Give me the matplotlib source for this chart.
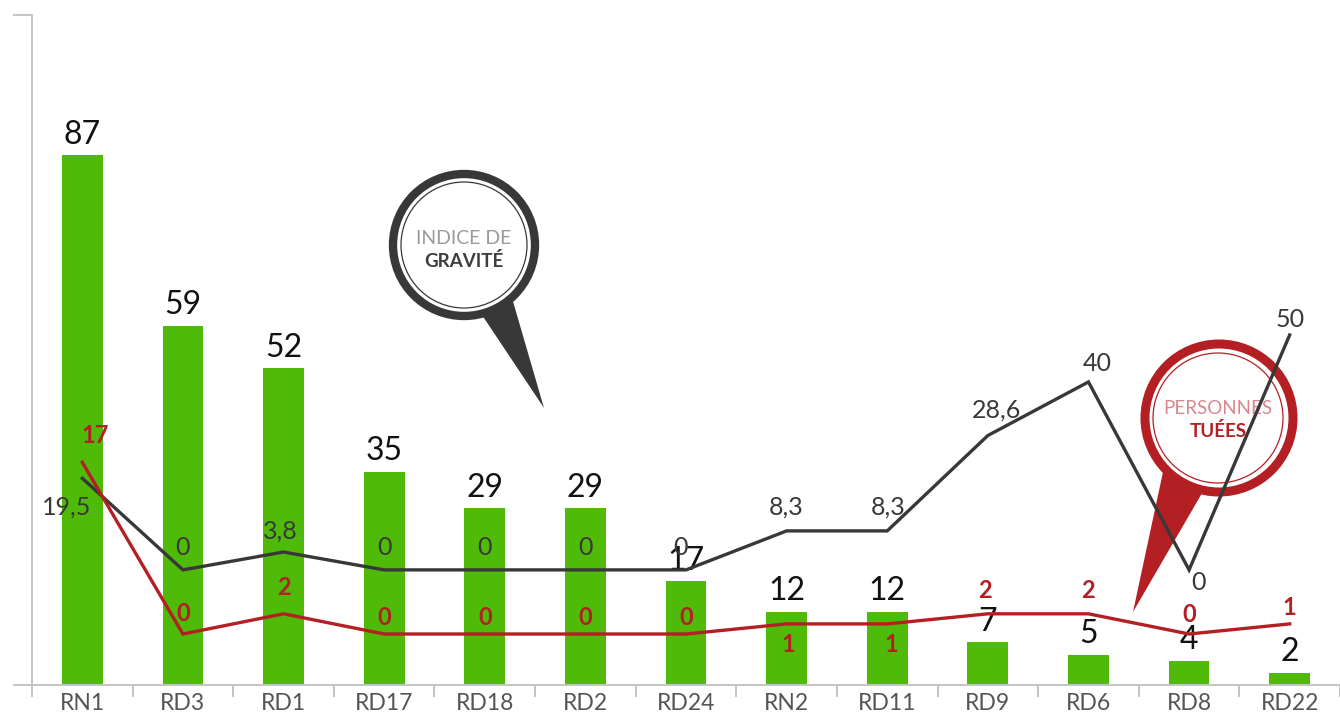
import numpy as np
import matplotlib
matplotlib.use("Agg")
import matplotlib.pyplot as plt
from matplotlib.patches import Circle, Polygon

plt.rcParams['font.family'] = ['Lato', 'DejaVu Sans']

# data
routes = ["RN1", "RD3", "RD1", "RD17", "RD18", "RD2", "RD24",
          "RN2", "RD11", "RD9", "RD6", "RD8", "RD22"]
accidents = [87, 59, 52, 35, 29, 29, 17, 12, 12, 7, 5, 4, 2]
gravite = [19.5, 0, 3.8, 0, 0, 0, 0, 8.3, 8.3, 28.6, 40, 0, 50]
tues = [17, 0, 2, 0, 0, 0, 0, 1, 1, 2, 2, 0, 1]

# label offsets (points)
grav_off = [(-11, -21), (0, 16), (-2, 15), (0, 16), (0, 16), (0, 16), (-4, 16),
            (0, 17), (1, 17), (6, 18), (6, 13), (7, -9), (0, 11)]
tues_off = [(9, 19), (0, 15), (0, 19), (0, 12), (0, 12), (0, 12), (0, 12),
            (1, -15), (3, -15), (-2, 17), (0, 17), (0, 14), (0, 12)]

GREEN = "#4fba08"
DARK = "#383838"
RED = "#b41f24"
AXIS = "#c4c4c4"


def fr(v):
    return f"{v:g}".replace(".", ",")


fig = plt.figure(figsize=(13.4, 7.17), dpi=100)

# decorative bubbles, drawn in pixel space under the chart
deco = fig.add_axes([0, 0, 1, 1])
deco.set_xlim(0, 1340)
deco.set_ylim(717, 0)
deco.axis("off")

deco.add_patch(Polygon([(480, 312), (512, 298), (544, 408)], closed=True, color=DARK, lw=0))
deco.add_patch(Circle((464, 245), 71, fill=False, ec=DARK, lw=6))
deco.add_patch(Circle((464, 245), 63, fill=False, ec=DARK, lw=0.9))
deco.text(464, 238, "INDICE DE", ha="center", va="center", fontsize=14,
          color="#9a9a9a")
deco.text(464, 261, "GRAVITÉ", ha="center", va="center", fontsize=13.5,
          color="#3d3d3d", fontweight="bold")

deco.add_patch(Polygon([(1163, 472), (1205, 488), (1133, 612)], closed=True, color=RED, lw=0))
deco.add_patch(Circle((1219, 418), 74, fill=False, ec=RED, lw=6.5))
deco.add_patch(Circle((1218, 418), 65, fill=False, ec=RED, lw=0.9))
deco.text(1218, 408, "PERSONNES", ha="center", va="center", fontsize=13.5,
          color="#d9868c")
deco.text(1218, 431, "TUÉES", ha="center", va="center", fontsize=13.5,
          color=RED, fontweight="bold")

# main chart
ax = fig.add_axes([32 / 1340, 32 / 717, 1308 / 1340, 670 / 717])
ax.patch.set_visible(False)
x = np.arange(len(routes))
ax.bar(x, accidents, width=0.405, color=GREEN, zorder=2)
for xi, v in zip(x, accidents):
    ax.annotate(str(v), (xi, v), xytext=(0, 4), textcoords="offset points",
                ha="center", va="bottom", fontsize=23, color="#111111")

ax.set_xlim(-0.5, -0.5 + 1308 / 101.33)
ax.set_ylim(0, 110)
ax.set_xticks(x)
ax.set_xticklabels(routes, fontsize=16.5, color="#555555")
ax.set_xticks(np.arange(len(routes) + 1) - 0.5, minor=True)
ax.tick_params(axis="x", which="major", length=0, pad=6)
ax.tick_params(axis="x", which="minor", length=8.5, width=1.4, color=AXIS)
ax.set_yticks([0, 110])
ax.set_yticklabels([])
ax.tick_params(axis="y", length=13.5, width=1.4, color=AXIS)
for s in ["top", "right"]:
    ax.spines[s].set_visible(False)
for s in ["left", "bottom"]:
    ax.spines[s].set_color(AXIS)
    ax.spines[s].set_linewidth(1.4)

# indice de gravite
ax_g = ax.twinx()
ax_g.plot(x, gravite, color=DARK, lw=2.4, solid_joinstyle="miter")
for xi, v, off in zip(x, gravite, grav_off):
    ax_g.annotate(fr(v), (xi, v), xytext=off, textcoords="offset points",
                  ha="center", va="center", fontsize=18, color=DARK)
ax_g.set_ylim(-24.5, 118.1)

# personnes tuees
ax_t = ax.twinx()
ax_t.plot(x, tues, color=RED, lw=2.4, solid_joinstyle="miter")
for xi, v, off in zip(x, tues, tues_off):
    ax_t.annotate(str(v), (xi, v), xytext=off, textcoords="offset points",
                  ha="center", va="center", fontsize=17, color=RED, fontweight="bold")
ax_t.set_ylim(-5.05, 61.3)

for a in (ax_g, ax_t):
    a.axis("off")

fig.savefig("out.png", dpi=100)
